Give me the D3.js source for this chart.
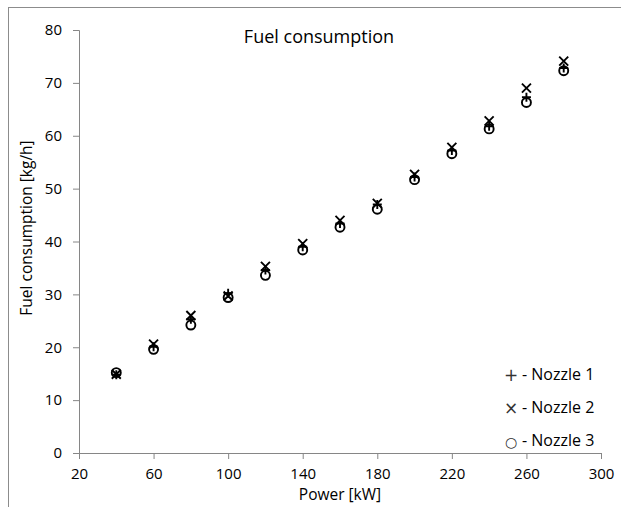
<!DOCTYPE html>
<html lang="en">
<head>
<meta charset="UTF-8">
<title>Fuel consumption</title>
<style>
    body { margin: 0; background: #fff; font-family: "Open Sans", sans-serif; }
    svg { display: block; }
</style>
</head>
<body>
<div id="chart"></div>
<script src="https://d3js.org/d3.v7.min.js"></script>
<script>
const power = [40, 60, 80, 100, 120, 140, 160, 180, 200, 220, 240, 260, 280];
const nozzle1 = [14.8, 20.1, 25.3, 30.2, 34.6, 39.0, 43.4, 47.0, 52.2, 57.2, 61.8, 67.3, 72.8];
const nozzle2 = [14.9, 20.6, 26.0, 29.7, 35.3, 39.6, 44.0, 47.2, 52.7, 57.8, 62.8, 69.0, 74.1];
const nozzle3 = [15.2, 19.6, 24.2, 29.4, 33.6, 38.4, 42.7, 46.1, 51.7, 56.6, 61.3, 66.3, 72.3];
const xTicks = [20, 60, 100, 140, 180, 220, 260, 300];
const yTicks = [0, 10, 20, 30, 40, 50, 60, 70, 80];
const legendSymbols = ["+", "\u00d7", "\u25cb"];
const legendLabels = ["- Nozzle 1", "- Nozzle 2", "- Nozzle 3"];

const width = 621, height = 507;
const axisColor = "#868686";

const svg = d3.select("#chart").append("svg")
    .attr("width", width)
    .attr("height", height);

// chart frame (right and bottom edges fall outside the picture)
svg.append("rect")
    .attr("x", 8.5).attr("y", 7.5)
    .attr("width", 640).attr("height", 520)
    .attr("fill", "none")
    .attr("stroke", "#8c8c8c");

const x = d3.scaleLinear().domain([20, 300]).range([79, 601]);
const y = d3.scaleLinear().domain([0, 80]).range([453, 30]);

const xAxis = svg.append("g")
    .attr("transform", `translate(0,${y(0)})`)
    .call(d3.axisBottom(x).tickValues(xTicks).tickSize(6).tickPadding(9));

const yAxis = svg.append("g")
    .attr("transform", `translate(${x(20)},0)`)
    .call(d3.axisLeft(y).tickValues(yTicks).tickSize(6).tickPadding(11));

[xAxis, yAxis].forEach(g => {
    g.select(".domain").attr("stroke", axisColor);
    g.selectAll(".tick line").attr("stroke", axisColor);
    g.selectAll(".tick text")
        .attr("fill", "#000")
        .style("font-family", "Open Sans, sans-serif")
        .style("font-size", "15px");
});

// title
svg.append("text")
    .attr("x", 319).attr("y", 43)
    .attr("text-anchor", "middle")
    .style("font-size", "18px")
    .text("Fuel consumption");

// axis titles
svg.append("text")
    .attr("x", 340).attr("y", 500)
    .attr("text-anchor", "middle")
    .style("font-size", "15.5px")
    .text("Power [kW]");

svg.append("text")
    .attr("transform", `translate(32,228) rotate(-90)`)
    .attr("text-anchor", "middle")
    .style("font-size", "15.5px")
    .text("Fuel consumption [kg/h]");

const s = 4.5;
const mark = svg.append("g")
    .attr("stroke", "#000")
    .attr("stroke-width", 1.9)
    .attr("fill", "none");

// nozzle 3: circles
mark.selectAll("circle.n3")
    .data(power.map((p, i) => [p, nozzle3[i]]))
    .join("circle")
    .attr("class", "n3")
    .attr("cx", d => x(d[0]))
    .attr("cy", d => y(d[1]))
    .attr("r", s);

// nozzle 1: plus
mark.selectAll("path.n1")
    .data(power.map((p, i) => [p, nozzle1[i]]))
    .join("path")
    .attr("class", "n1")
    .attr("d", d => {
        const cx = x(d[0]), cy = y(d[1]);
        return `M${cx - s},${cy}H${cx + s}M${cx},${cy - s}V${cy + s}`;
    });

// nozzle 2: cross
mark.selectAll("path.n2")
    .data(power.map((p, i) => [p, nozzle2[i]]))
    .join("path")
    .attr("class", "n2")
    .attr("d", d => {
        const cx = x(d[0]), cy = y(d[1]);
        return `M${cx - s},${cy - s}L${cx + s},${cy + s}M${cx - s},${cy + s}L${cx + s},${cy - s}`;
    });

// legend written as text
const legend = svg.append("g");
legend.selectAll("text.sym")
    .data(legendSymbols)
    .join("text")
    .attr("class", "sym")
    .attr("x", 511)
    .attr("y", (d, i) => 381 + i * 33)
    .attr("text-anchor", "middle")
    .attr("fill", "#333")
    .style("font-family", "DejaVu Sans, sans-serif")
    .style("font-size", (d, i) => i === 2 ? "14px" : "17px")
    .text(d => d);

legend.selectAll("text.lab")
    .data(legendLabels)
    .join("text")
    .attr("class", "lab")
    .attr("x", 522)
    .attr("y", (d, i) => 380 + i * 33)
    .style("font-size", "16px")
    .text(d => d);
</script>
</body>
</html>
